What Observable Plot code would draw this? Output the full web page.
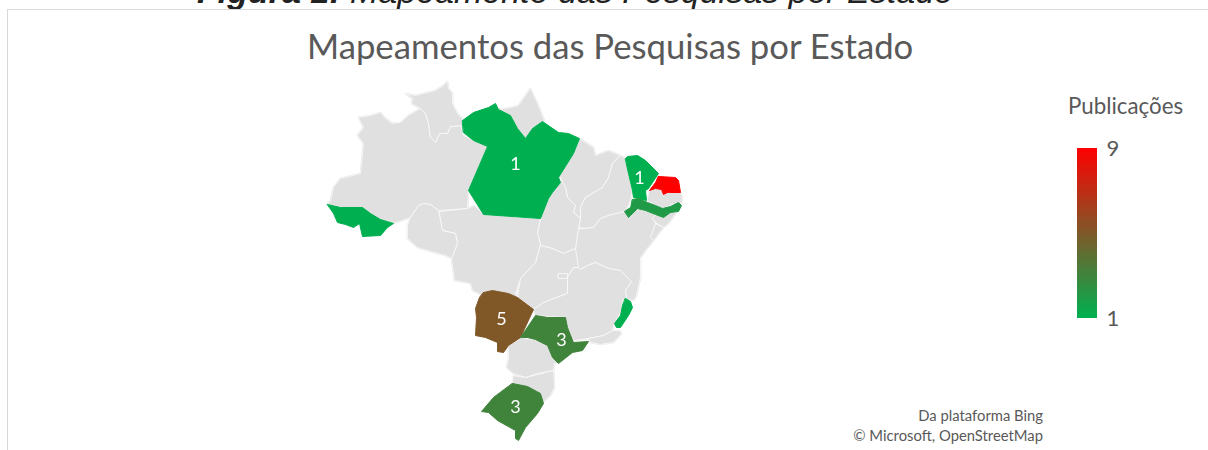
<!DOCTYPE html>
<html lang="pt">
<head>
<meta charset="utf-8">
<script src="https://cdn.jsdelivr.net/npm/d3@7"></script>
<script src="https://cdn.jsdelivr.net/npm/@observablehq/plot@0.6"></script>
<style>
html,body{margin:0;padding:0;background:#fff;overflow:hidden;width:1208px;height:450px;font-family:Lato,sans-serif}
#stage{position:relative;width:1208px;height:450px;overflow:hidden}
#stage>*{position:absolute}
#figura{left:197px;top:-29px;font:italic 34px/40px "Liberation Sans",sans-serif;color:#222;white-space:nowrap}
#figura b{font-weight:700}
#panel{left:7px;top:9px;width:1210px;height:460px;border:1px solid #d9d9d9;background:#fff;box-sizing:border-box}
#map{filter:blur(0.5px)}
#title{left:307px;top:24px;font-size:34.7px;line-height:44px;color:#595959;white-space:nowrap}
#legendTitle{left:1068px;top:93px;font-size:22.3px;line-height:26px;color:#595959;white-space:nowrap}
#credit{right:165px;top:405px;font-size:14.8px;line-height:20px;color:#595959;text-align:right;white-space:nowrap}
</style>
</head>
<body>
<div id="stage">
  <div id="figura"><b>Figura 1:</b> Mapeamento das Pesquisas por Estado</div>
  <div id="panel"></div>
  <div id="map"></div>
  <div id="title">Mapeamentos das Pesquisas por Estado</div>
  <div id="legendTitle">Publicações</div>
  <div id="scale"></div>
  <div id="credit">Da plataforma Bing<br>© Microsoft, OpenStreetMap</div>
</div>
<script>
// Outlines, in map units (x east, y south)
const amazonas=[[58,37],[70,35],[80,32],[85,38],[92,43],[100,42],[108,35],[120,28],[125,33],[128,43],[130,57],[135,62],[139,53],[147,53],[150,46],[160,45],[162,50],[163,55],[173,60],[187,66],[168,110],[167,128],[138,130],[130,124],[123,123],[118,125],[110,137],[93,143],[80,139],[70,133],[62,127],[40,127],[27,124],[30,120],[33,107],[40,98],[60,93],[63,63],[57,55],[63,47]];
const acre=[[27,124],[40,127],[62,127],[70,133],[80,139],[93,143],[87,147],[80,155],[62,156],[59,143],[53,147],[45,144],[37,142],[33,133]];
const roraima=[[105,13],[115,15],[123,13],[135,10],[143,5],[147,1],[148,8],[152,13],[152,23],[157,33],[162,38],[162,45],[150,46],[147,53],[139,53],[135,62],[130,57],[128,43],[125,33],[120,28],[111,23],[112,18]];
const para=[[162,40],[173,32],[188,27],[195,23],[198,29],[210,35],[217,48],[225,58],[232,48],[242,41],[258,52],[268,53],[279,58],[273,73],[258,97],[260,102],[252,112],[248,118],[240,138],[183,134],[168,110],[187,66],[173,60],[163,52]];
const amapa=[[198,29],[210,27],[218,25],[230,8],[237,23],[244,40],[242,41],[232,48],[225,58],[217,48],[210,35]];
const maranhao=[[279,58],[293,67],[295,75],[308,70],[320,75],[312,83],[308,97],[302,107],[285,117],[280,127],[280,138],[273,132],[275,125],[267,117],[265,107],[258,97],[273,73]];
const piaui=[[320,75],[326,78],[328,93],[332,110],[330,120],[325,131],[320,132],[308,135],[300,138],[293,147],[285,148],[278,147],[280,138],[280,127],[285,117],[302,107],[308,97],[312,83]];
const ceara=[[325,78],[327,76],[337,75],[345,80],[358,93],[348,108],[345,110],[346,120],[338,118],[333,117],[332,110],[328,93]];
const rioGrandeNorte=[[358,96],[375,97],[378,100],[380,112],[369,112],[367,112],[363,114],[361,109],[355,108],[349,110],[355,102]];
const paraiba=[[349,110],[355,108],[361,109],[363,114],[367,112],[380,112],[382,117],[381,123],[372,124],[362,128],[355,125],[347,120]];
const pernambuco=[[332,119],[338,118],[347,122],[355,125],[362,128],[370,126],[378,122],[381,125],[378,131],[370,132],[363,137],[355,134],[345,130],[337,128],[330,135],[328,137],[324,131],[330,127]];
const alagoas=[[355,134],[363,137],[370,132],[376,132],[368,143],[363,147],[355,142],[352,138]];
const sergipe=[[355,143],[363,147],[353,160],[350,157]];
const bahia=[[278,148],[285,148],[293,147],[300,138],[308,135],[320,132],[325,131],[328,137],[330,135],[337,128],[345,130],[355,134],[352,138],[355,143],[350,157],[353,160],[345,170],[340,177],[340,197],[336,215],[333,220],[326,219],[325,210],[331,201],[320,190],[308,188],[295,182],[287,185],[280,189],[275,185],[275,168]];
const tocantins=[[260,97],[265,107],[267,117],[275,125],[273,132],[280,138],[278,148],[275,168],[263,173],[252,168],[240,165],[237,152],[240,138],[248,118],[252,112],[260,102]];
const matoGrosso=[[139,131],[167,128],[174,125],[183,134],[240,138],[237,152],[240,165],[235,182],[220,198],[215,213],[217,217],[208,213],[192,210],[183,212],[180,214],[172,210],[170,203],[154,200],[151,178],[157,163],[155,153],[142,150]];
const rondonia=[[110,137],[118,125],[123,123],[130,124],[138,130],[142,150],[155,153],[157,163],[151,178],[145,175],[130,171],[117,167],[107,158],[107,145]];
const matoGrossoSul=[[183,212],[192,210],[208,213],[217,217],[233,229],[220,257],[208,265],[203,272],[197,271],[197,262],[185,257],[175,255],[176,237],[175,228],[179,217]];
const goias=[[240,165],[252,168],[263,173],[275,168],[278,187],[273,187],[267,197],[267,213],[253,218],[243,222],[233,229],[217,217],[220,198],[235,182]];
const distritoFederal=[[258,193],[267,193],[267,198],[258,198]];
const minasGerais=[[233,229],[243,222],[253,218],[267,213],[267,197],[273,187],[278,187],[280,189],[287,185],[295,182],[308,188],[320,190],[331,201],[325,210],[326,219],[322,220],[321,230],[317,238],[313,246],[312,250],[303,255],[288,258],[273,260],[267,247],[265,237],[247,236],[235,235]];
const espiritoSanto=[[325,218],[330,221],[332,227],[328,235],[320,247],[316,247],[314,243],[320,235],[322,225]];
const rioJaneiro=[[288,258],[303,255],[312,250],[319,250],[321,253],[313,262],[300,264],[290,262]];
const saoPaulo=[[220,257],[235,235],[247,237],[265,237],[267,247],[273,262],[288,261],[282,270],[272,272],[258,283],[252,277],[247,265],[235,259],[227,257]];
const parana=[[208,265],[220,258],[235,259],[247,265],[252,277],[258,283],[254,283],[253,290],[237,293],[225,297],[213,293],[206,287],[208,278]];
const santaCatarina=[[213,295],[225,297],[237,294],[253,290],[254,307],[250,315],[242,322],[240,313],[227,307],[212,304]];
const rioGrandeSul=[[212,303],[227,306],[240,313],[243,323],[237,333],[225,347],[218,360],[215,358],[215,350],[197,340],[188,332],[181,331],[193,317]];

// Publications per state; states absent from the list have no data
const noDataStates=[amazonas,roraima,amapa,maranhao,piaui,paraiba,alagoas,sergipe,bahia,tocantins,matoGrosso,rondonia,goias,minasGerais,distritoFederal,rioJaneiro,parana,santaCatarina];
const mappedStates=[acre,para,ceara,rioGrandeNorte,pernambuco,espiritoSanto,matoGrossoSul,saoPaulo,rioGrandeSul];
const publications=[1,1,1,9,2,1,5,3,3];
const labels=[["1",215,84],["1",339,98],["5",201,239],["3",261,260],["3",215,327]];

const scaleDomain=[1,9];
const scaleColors=["#00b050","#ff0000"];
const scaleTicks=[1,9];

const feature=(ring,value)=>({type:"Feature",properties:{value},geometry:{type:"Polygon",coordinates:[[...ring,ring[0]]]}});
const grey=noDataStates.map(r=>feature(r));
const coloured=mappedStates.map((r,i)=>feature(r,publications[i]));
const all={type:"FeatureCollection",features:[...grey,...coloured]};
const color={type:"linear",domain:scaleDomain,range:scaleColors,interpolate:"rgb"};

document.getElementById("map").append(Plot.plot({
  width:1208,height:450,margin:0,
  style:{background:"transparent"},
  projection:()=>d3.geoIdentity().fitExtent([[327,81],[682,440]],all),
  color,
  marks:[
    Plot.geo(grey,{fill:"#e0e0e0",stroke:"#e0e0e0",strokeWidth:1.6}),
    Plot.geo(grey,{fill:"#e0e0e0",stroke:"#fbfbfb",strokeWidth:0.8}),
    Plot.geo(coloured,{fill:d=>d.properties.value,stroke:d=>d.properties.value,strokeWidth:1}),
    Plot.text(labels,{x:d=>d[1],y:d=>d[2],text:d=>d[0],fill:"#fff",fontSize:18,fontFamily:"Lato"})
  ]
}));

const stops=d3.range(scaleDomain[0],scaleDomain[1],0.05);
const scalePlot=Plot.plot({
  width:70,height:210,marginTop:20,marginBottom:20,marginLeft:0,marginRight:50,
  style:{background:"transparent",fontFamily:"Lato"},
  x:{axis:null,domain:[0,1]},
  y:{domain:scaleDomain,axis:null},
  color,
  marks:[
    Plot.rect(stops,{x1:0,x2:1,y1:d=>d,y2:d=>d+0.05,fill:d=>d,shapeRendering:"crispEdges"}),
    Plot.axisY(scaleTicks,{anchor:"right",tickSize:0,tickPadding:9,fontSize:22,fill:"#595959",label:null,tickFormat:d3.format("d")})
  ]
});
const holder=document.getElementById("scale");
holder.style.left="1077px";holder.style.top="128px";
holder.append(scalePlot);
</script>
</body>
</html>
